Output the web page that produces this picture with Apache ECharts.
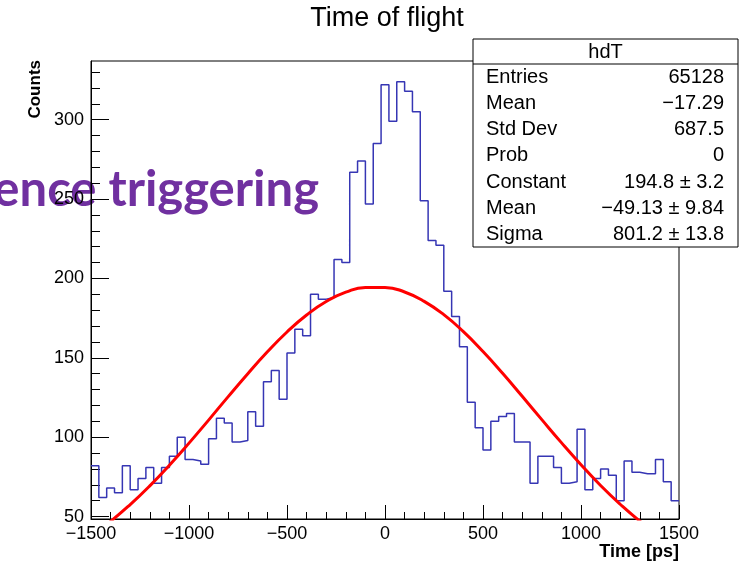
<!DOCTYPE html>
<html><head><meta charset="utf-8">
<script src="https://cdn.jsdelivr.net/npm/echarts@6/dist/echarts.min.js"></script>
<style>html,body{margin:0;padding:0;background:#fff}#c{width:748px;height:566px}</style>
</head><body><div id="c"></div>
<script>
// Histogram: 75 bins of 40 ps from -1500 to 1500
const binLow = -1500;
const binWidth = 40;
const counts = [
  82, 62, 68, 65, 82, 67, 74, 81, 71, 81,
  88, 100, 86, 85, 83, 99, 112, 109, 97, 98,
  116, 107, 135, 142, 124, 153, 168, 164, 190, 187,
  188, 212, 210, 267, 274, 247, 285, 322, 299, 324,
  318, 305, 249, 224, 221, 192, 176, 157, 122, 106,
  92, 110, 113, 115, 97, 97, 71, 88, 88, 81,
  71, 72, 105, 67, 74, 80, 76, 60, 85, 78,
  77, 77, 86, 72, 60
];
// Gaussian fit curve
const fitX = [-1500,-1400,-1300,-1200,-1100,-1000,-900,-800,-700,-600,-500,-400,-300,-200,-100,0,
              100,200,300,400,500,600,700,800,900,1000,1100,1200,1300,1400,1500];
const fitY = [37.8,47.0,57.6,69.4,82.4,96.3,110.8,125.6,140.0,153.8,166.3,177.0,185.5,191.4,194.4,194.4,
              191.5,185.6,177.2,166.5,154.0,140.3,125.8,111.1,96.6,82.7,69.6,57.8,47.2,38.0,30.0];
const yMajorTicks = [50,100,150,200,250,300];
const yMinorTicks = [50,60,70,80,90,100,110,120,130,140,150,160,170,180,190,200,210,220,230,240,250,260,270,280,290,300,310,320,330];
const statsTitle = 'hdT';
const statsLabels = ['Entries','Mean','Std Dev','Prob','Constant','Mean','Sigma'];
const statsValues = ['65128','\u221217.29','687.5','0','194.8 \u00b1 3.2','\u221249.13 \u00b1 9.84','801.2 \u00b1 13.8'];

const histData = counts.map((c,i)=>[binLow + i*binWidth, c]);
histData.push([binLow + counts.length*binWidth, counts[counts.length-1]]);
const fitData = fitX.map((x,i)=>[x, fitY[i]]);

const FONT = 'Liberation Sans, Arial, sans-serif';
const chart = echarts.init(document.getElementById('c'), null, {renderer:'canvas'});

const gx0 = 473, gy0 = 39, gw = 265, gh = 208;
const graphics = [
  {type:'text', z:-10, x:319, y:190, style:{text:'ence triggering', fill:'#7030A0', font:'bold 49px Lato, "Open Sans", sans-serif', textAlign:'right', align:'right', textVerticalAlign:'middle', verticalAlign:'middle'}},
  {type:'text', x:387, y:19, style:{text:'Time of flight', fill:'#000', font:'27px '+FONT, textAlign:'center', align:'center', textVerticalAlign:'middle', verticalAlign:'middle'}},
  {type:'text', x:35, y:60, rotation:Math.PI/2, style:{text:'Counts', fill:'#000', font:'bold 17px '+FONT, textAlign:'right', align:'right', textVerticalAlign:'middle', verticalAlign:'middle'}},
  {type:'text', x:679, y:552, style:{text:'Time [ps]', fill:'#000', font:'bold 18px '+FONT, textAlign:'right', align:'right', textVerticalAlign:'middle', verticalAlign:'middle'}},
  {type:'rect', z:50, shape:{x:gx0, y:gy0, width:gw, height:gh}, style:{fill:'#fff', stroke:'#000', lineWidth:1}},
  {type:'line', z:51, shape:{x1:gx0, y1:64, x2:gx0+gw, y2:64}, style:{stroke:'#000', lineWidth:1}},
  {type:'text', z:52, x:gx0+gw/2, y:52, style:{text:statsTitle, fill:'#000', font:'20px '+FONT, textAlign:'center', align:'center', textVerticalAlign:'middle', verticalAlign:'middle'}}
];
statsLabels.forEach((l,i)=>{
  const y = 77 + i*26.3;
  graphics.push({type:'text', z:52, x:486, y:y, style:{text:l, fill:'#000', font:'20px '+FONT, textAlign:'left', align:'left', textVerticalAlign:'middle', verticalAlign:'middle'}});
  graphics.push({type:'text', z:52, x:724, y:y, style:{text:statsValues[i], fill:'#000', font:'20px '+FONT, textAlign:'right', align:'right', textVerticalAlign:'middle', verticalAlign:'middle'}});
});

chart.setOption({
  animation:false,
  backgroundColor:'#fff',
  grid:{left:91, right:69, top:61, bottom:47, show:true, borderColor:'#000', borderWidth:1, backgroundColor:'transparent'},
  xAxis:{type:'value', min:-1500, max:1500, interval:500,
    axisLine:{show:true, onZero:false, lineStyle:{color:'#000', width:1}},
    axisTick:{show:true, inside:true, length:14, lineStyle:{color:'#000'}},
    minorTick:{show:true, splitNumber:5, length:7, lineStyle:{color:'#000'}},
    axisLabel:{fontSize:18, color:'#000', fontFamily:FONT, margin:6, formatter:v=> v<0 ? '\u2212'+Math.abs(v) : String(v)},
    splitLine:{show:false}},
  yAxis:[
    {type:'value', min:48.5, max:337, position:'left',
      axisLine:{show:true, onZero:false, lineStyle:{color:'#000', width:1}},
      axisTick:{show:true, inside:true, length:18, customValues:yMajorTicks, lineStyle:{color:'#000'}},
      axisLabel:{customValues:yMajorTicks, fontSize:18, color:'#000', fontFamily:FONT, margin:7},
      splitLine:{show:false}},
    {type:'value', min:48.5, max:337, position:'left',
      axisLine:{show:false, onZero:false},
      axisTick:{show:true, inside:true, length:9, customValues:yMinorTicks, lineStyle:{color:'#000'}},
      axisLabel:{show:false},
      splitLine:{show:false}}
  ],
  series:[
    {type:'line', data:histData, step:'end', symbol:'none', xAxisIndex:0, yAxisIndex:0,
      lineStyle:{color:'#3636b4', width:1.5}, z:3},
    {type:'line', data:fitData, smooth:true, symbol:'none', xAxisIndex:0, yAxisIndex:0,
      lineStyle:{color:'#ff0000', width:3}, z:4}
  ],
  graphic:graphics
});
</script></body></html>
